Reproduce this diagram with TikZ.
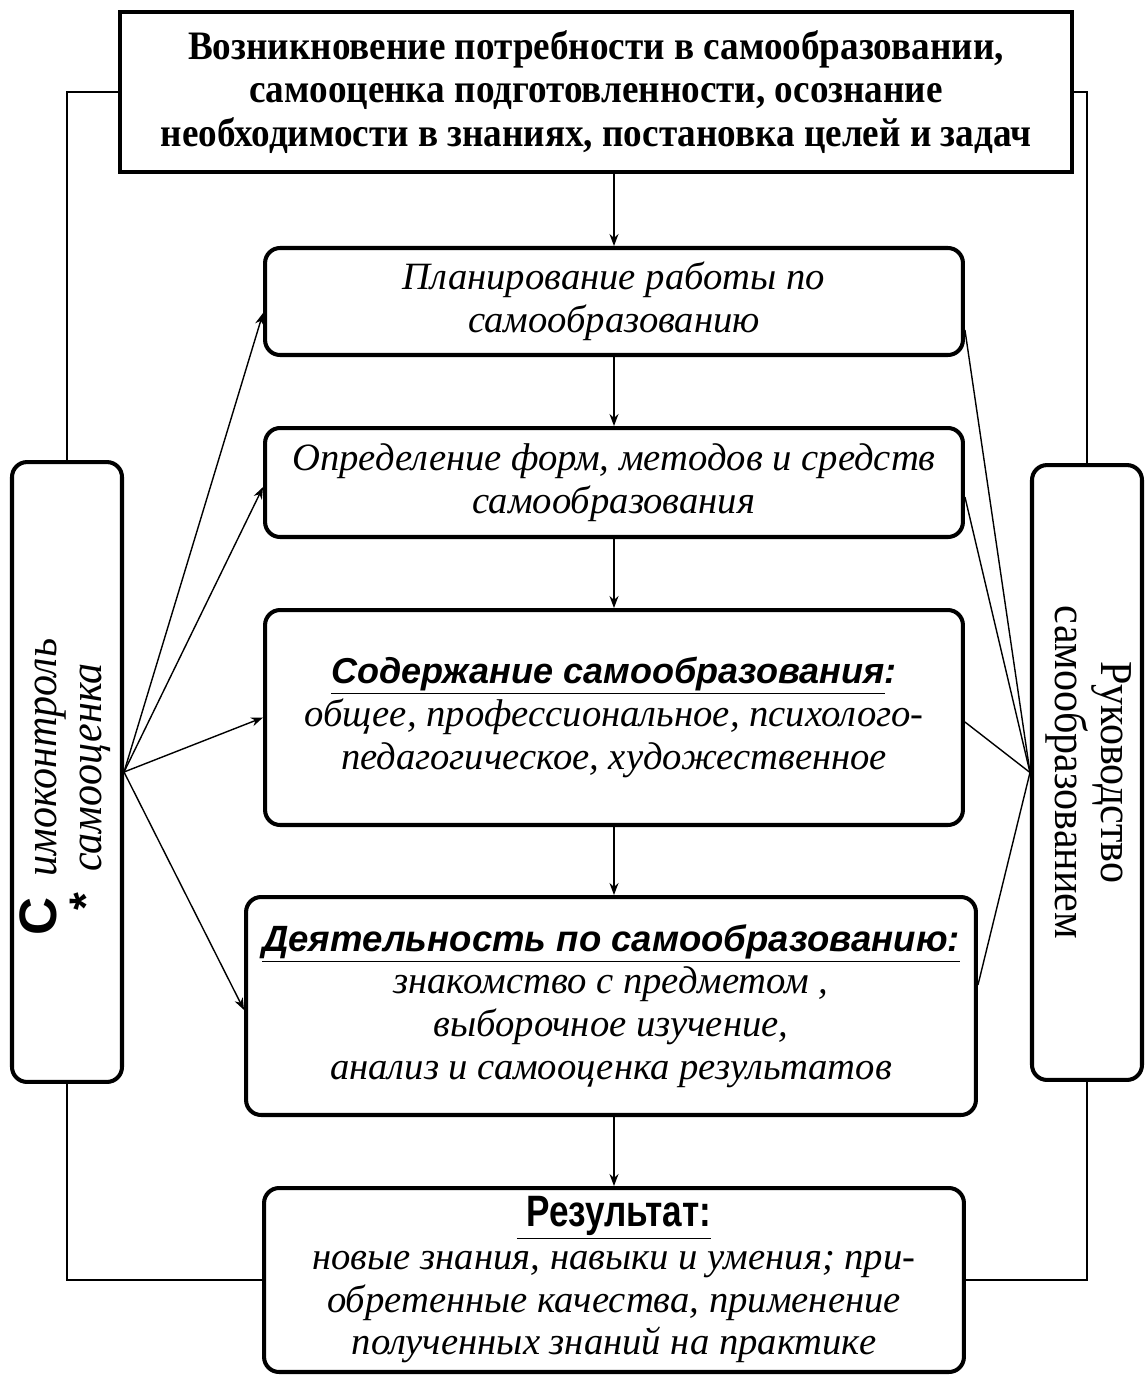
\documentclass[tikz,border=0pt]{standalone}
\usepackage{fontspec}
\setmainfont{Liberation Serif}
\setsansfont{Liberation Sans}
\newfontfamily\narrowserif[FakeStretch=0.92]{Liberation Serif}
\newfontfamily\narrowsans[FakeStretch=0.8]{Liberation Sans}
\usetikzlibrary{arrows.meta}

\begin{document}
\begin{tikzpicture}[
  x=0.02cm, y=-0.02cm,
  headbox/.style={draw, line width=2.6pt, minimum width=19.04cm,
    minimum height=3.2cm, align=center,
    font=\narrowserif\bfseries\fontsize{23}{25}\selectfont},
  stepbox/.style={draw, line width=2.3pt, rounded corners=0.3cm,
    align=center, font=\itshape\fontsize{22}{24.3}\selectfont},
  sidebox/.style={draw, line width=2.3pt, rounded corners=0.3cm,
    minimum width=2.2cm, font=\narrowserif\fontsize{26}{25}\selectfont},
  link/.style={line width=0.8pt},
  arrow/.style={link, -{Stealth[length=2.4mm,width=1.8mm]}},
]
\useasboundingbox (0,0) rectangle (1146,1377);

% Chain of stages
\node[headbox] (top) at (596,92)
  {Возникновение потребности в самообразовании,\\
   самооценка подготовленности, осознание\\
   необходимости в знаниях, постановка целей и задач};
\node[stepbox, minimum width=13.96cm, minimum height=2.14cm] (plan) at (614,301.5)
  {Планирование работы по\\ самообразованию};
\node[stepbox, minimum width=13.96cm, minimum height=2.18cm] (forms) at (614,482.5)
  {Определение форм, методов и средств\\ самообразования};
\node[stepbox, minimum width=13.96cm, minimum height=4.3cm] (content) at (614,717.5)
  {{\sffamily\bfseries\fontsize{20.5}{24}\selectfont\underline{Содержание самообразования}:}\\
   общее, профессиональное, психолого-\\
   педагогическое, художественное};
\node[stepbox, minimum width=14.6cm, minimum height=4.36cm] (activity) at (611,1006)
  {{\sffamily\bfseries\fontsize{20.8}{24}\selectfont\underline{Деятельность по самообразованию:}}\\
   знакомство с предметом ,\\
   выборочное изучение,\\
   анализ и самооценка результатов};
\node[stepbox, minimum width=14cm, minimum height=3.68cm] (result) at (614,1280)
  {{\narrowsans\bfseries\upshape\fontsize{25}{24}\selectfont\underline{\ Результат:}}\\
   новые знания, навыки и умения; при-\\
   обретенные качества, применение\\
   полученных знаний на практике};

% Side boxes
\node[sidebox, minimum height=12.4cm] (selfctl) at (67,772)
  {\rotatebox{90}{\begin{tabular}{@{}c@{\hspace{0.6cm}}}
    {\sffamily\bfseries\fontsize{30}{25}\selectfont С}\ \ {\itshape имоконтроль}\\
    {\sffamily\bfseries *}\ \ {\itshape самооценка}
   \end{tabular}}};
\node[sidebox, minimum height=12.3cm] (guide) at (1087,772.5)
  {\rotatebox{-90}{\begin{tabular}{@{}c@{}}
    Руководство\\ самообразованием
   \end{tabular}}};

% Main sequence
\draw[arrow] (top.south -| plan.north) -- (plan.north);
\draw[arrow] (plan) -- (forms);
\draw[arrow] (forms) -- (content);
\draw[arrow] (content.south) -- (content.south |- activity.north);
\draw[arrow] (result.north |- activity.south) -- (result.north);

% Outer frame
\draw[link] (top.west) -| (selfctl.north);
\draw[link] (selfctl.south) |- (result.west);
\draw[link] (top.east) -| (guide.north);
\draw[link] (guide.south) |- (result.east);

% Self-control fan
\draw[arrow] (selfctl.east) -- ([yshift=-0.23cm]plan.west);
\draw[arrow] (selfctl.east) -- ([yshift=-0.09cm]forms.west);
\draw[arrow] (selfctl.east) -- (content.west);
\draw[arrow] (selfctl.east) -- ([yshift=-0.08cm]activity.west);

% Guidance fan
\draw[link] ([yshift=-0.57cm]plan.east) -- (guide.west);
\draw[link] ([yshift=-0.29cm]forms.east) -- (guide.west);
\draw[link] ([yshift=-0.09cm]content.east) -- (guide.west);
\draw[link] ([yshift=0.42cm]activity.east) -- (guide.west);
\end{tikzpicture}
\end{document}
